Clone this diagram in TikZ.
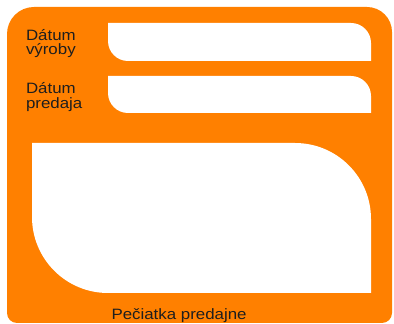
\documentclass[tikz,border=0pt]{standalone}
\usepackage{fontspec}
\setmainfont{Liberation Sans}[FakeStretch=1.125]
\definecolor{orn}{RGB}{255,128,0}
\definecolor{txt}{RGB}{30,30,30}
\begin{document}
\begin{tikzpicture}[x=1pt,y=1pt,
  lbl/.style={inner sep=0pt,outer sep=0pt,align=left,text=txt,font=\fontsize{15}{14.8}\selectfont},
  field/.style={fill=white}]
\useasboundingbox (0,0) rectangle (394,324);
% outer card
\fill[orn] (17,1) -- (382,1) arc[start angle=-90,end angle=0,radius=10]
  -- (392,292) arc[start angle=0,end angle=90,radius=25]
  -- (34,317) arc[start angle=90,end angle=180,radius=27]
  -- (7,11) arc[start angle=180,end angle=270,radius=10] -- cycle;
% field 1
\fill[field] (108,301) -- (351,301) arc[start angle=90,end angle=0,radius=20]
  -- (371,263) -- (128,263) arc[start angle=270,end angle=180,radius=20] -- cycle;
% field 2
\fill[field] (108,248) -- (351,248) arc[start angle=90,end angle=0,radius=20]
  -- (371,211) -- (128,211) arc[start angle=270,end angle=180,radius=20] -- cycle;
% big field
\fill[field] (32,181) -- (295,181) arc[start angle=90,end angle=0,radius=76]
  -- (371,31) -- (108,31) arc[start angle=270,end angle=180,radius=76] -- cycle;
\node[lbl,anchor=base west] (l1) at (26,269) {Dátum\\výroby};
\node[lbl,anchor=base west] (l2) at (26,215.8) {Dátum\\predaja};
\node[lbl,anchor=base west] (l3) at (111.5,4) {Pečiatka predajne};
\end{tikzpicture}
\end{document}
